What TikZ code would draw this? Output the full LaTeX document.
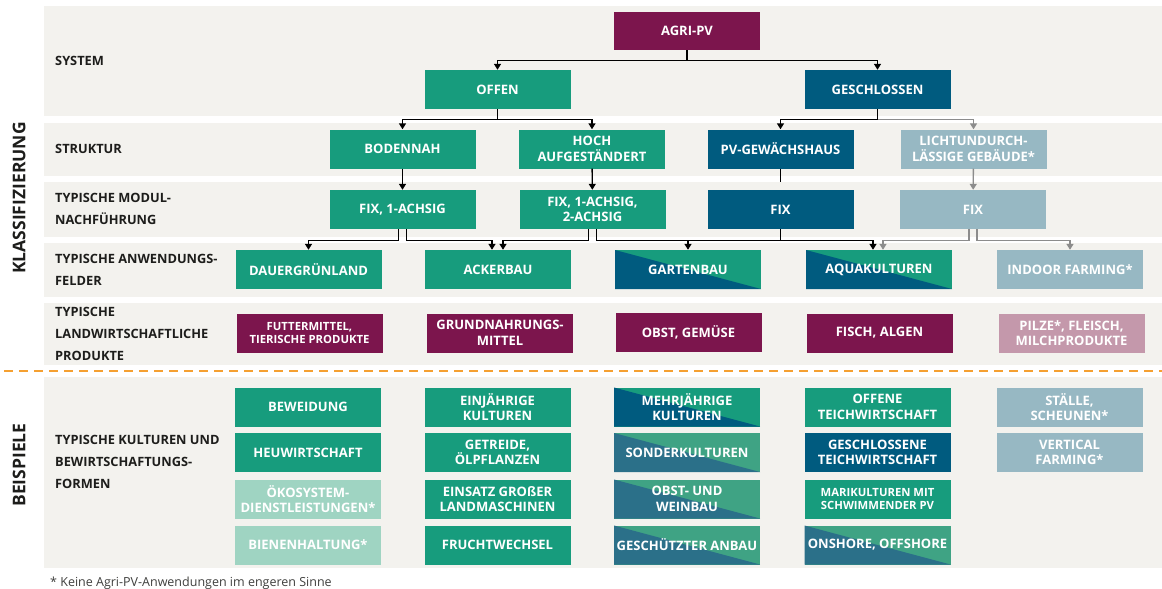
\documentclass[tikz,border=0pt]{standalone}
\usepackage{fontspec}
\setmainfont{Open Sans}
\usetikzlibrary{arrows.meta}
\definecolor{bg}{HTML}{F3F2EE}
\definecolor{fgreen}{HTML}{179C7D}
\definecolor{fblue}{HTML}{005B7F}
\definecolor{fpurple}{HTML}{7C154D}
\definecolor{fgray}{HTML}{97B8C3}
\definecolor{flgreen}{HTML}{9FD4C2}
\definecolor{fpink}{HTML}{C498AB}
\definecolor{mblue}{HTML}{2B7089}
\definecolor{mgreen}{HTML}{3FA384}
\definecolor{forange}{HTML}{F5A031}
\definecolor{conngray}{HTML}{8C8C8C}
\definecolor{labelc}{HTML}{1D1D1B}
\tikzset{
  box/.style={rectangle, minimum width=146pt, minimum height=39pt, inner sep=0pt,
    text=white, font=\fontsize{13}{15.5}\selectfont\bfseries, align=center, fill=#1},
  splitbox/.style 2 args={box=#2, path picture={\fill[#1] (path picture bounding box.north west) -- (path picture bounding box.south east) -- (path picture bounding box.south west) -- cycle;}},
  smalltext/.style={font=\fontsize{11.3}{13.8}\selectfont\bfseries},
  lab/.style={anchor=west, align=left, inner sep=0pt, text=labelc, font=\fontsize{12.8}{22}\selectfont\bfseries},
  biglab/.style={rotate=90, inner sep=0pt, text=labelc, font=\fontsize{17.5}{20}\selectfont\bfseries},
  ln/.style={draw=black, line width=1.4pt},
  arr/.style={ln, -{Triangle[width=7pt,length=6pt]}},
  garr/.style={arr, draw=conngray},
  band/.style={fill=bg}
}
\begin{document}
\begin{tikzpicture}[x=1pt,y=-1pt]
\useasboundingbox (0,0) rectangle (1162,589);
% background bands
\fill[band] (44,6) rectangle (1162,116);
\fill[band] (44,123) rectangle (1162,176);
\fill[band] (44,182) rectangle (1162,237);
\fill[band] (44,243) rectangle (1162,297);
\fill[band] (44,303) rectangle (1162,365);
\fill[band] (44,377) rectangle (1162,568);
\draw[forange, line width=2.5pt, dash pattern=on 9pt off 6pt] (4,371) -- (1162,371);

% big side labels
\node[biglab] (klass) at (19,198) {KLASSIFIZIERUNG};
\node[biglab] (beisp) at (19,465) {BEISPIELE};

% row labels
\node[lab] (l1) at (55,61) {SYSTEM};
\node[lab] (l2) at (55,149) {STRUKTUR};
\node[lab] (l3) at (55,209) {TYPISCHE MODUL-\\NACHFÜHRUNG};
\node[lab] (l4) at (55,269.5) {TYPISCHE ANWENDUNGS-\\FELDER};
\node[lab] (l5) at (55,334) {TYPISCHE\\LANDWIRTSCHAFTLICHE\\PRODUKTE};
\node[lab] (l6) at (55,462) {TYPISCHE KULTUREN UND\\BEWIRTSCHAFTUNGS-\\FORMEN};

% row 1
\node[box=fpurple, minimum height=38pt] (agri) at (687,31) {AGRI-PV};
\node[box=fgreen] (offen) at (497.5,89.5) {OFFEN};
\node[box=fblue] (gesch) at (877.5,89.5) {GESCHLOSSEN};
% row 2
\node[box=fgreen] (boden) at (402.5,149) {BODENNAH};
\node[box=fgreen] (hoch) at (592,149) {HOCH\\AUFGESTÄNDERT};
\node[box=fblue] (pvg) at (780.5,149) {PV-GEWÄCHSHAUS};
\node[box=fgray] (licht) at (973.5,149) {LICHTUNDURCH-\\LÄSSIGE GEBÄUDE*};
% row 3
\node[box=fgreen] (fix1) at (402.5,209.5) {FIX, 1-ACHSIG};
\node[box=fgreen] (fix12) at (592.5,209.5) {FIX, 1-ACHSIG,\\2-ACHSIG};
\node[box=fblue] (fixb) at (780.5,209.5) {FIX};
\node[box=fgray] (fixg) at (973,209.5) {FIX};
% row 4
\node[box=fgreen] (dauer) at (308.5,269.5) {DAUERGRÜNLAND};
\node[box=fgreen] (acker) at (498,269.5) {ACKERBAU};
\node[splitbox={fblue}{fgreen}] (garten) at (688,269.5) {GARTENBAU};
\node[splitbox={fblue}{fgreen}] (aqua) at (879,269.5) {AQUAKULTUREN};
\node[box=fgray] (indoor) at (1070,269.5) {INDOOR FARMING*};
% row 5
\node[box=fpurple, smalltext] (futter) at (309.5,333) {FUTTERMITTEL,\\TIERISCHE PRODUKTE};
\node[box=fpurple] (grund) at (500,333) {GRUNDNAHRUNGS-\\MITTEL};
\node[box=fpurple] (obst) at (688.5,332) {OBST, GEMÜSE};
\node[box=fpurple] (fisch) at (879.5,333) {FISCH, ALGEN};
\node[box=fpink] (pilze) at (1071.5,333) {PILZE*, FLEISCH,\\MILCHPRODUKTE};
% row 6 column 1
\node[box=fgreen] (bew) at (308,407) {BEWEIDUNG};
\node[box=fgreen] (heu) at (308,452.5) {HEUWIRTSCHAFT};
\node[box=flgreen] (oeko) at (308,499) {ÖKOSYSTEM-\\DIENSTLEISTUNGEN*};
\node[box=flgreen] (biene) at (308,545) {BIENENHALTUNG*};
% column 2
\node[box=fgreen] (einj) at (497.5,407) {EINJÄHRIGE\\KULTUREN};
\node[box=fgreen] (getr) at (497.5,452.5) {GETREIDE,\\ÖLPFLANZEN};
\node[box=fgreen] (eins) at (497.5,499) {EINSATZ GROßER\\LANDMASCHINEN};
\node[box=fgreen] (frucht) at (497.5,545) {FRUCHTWECHSEL};
% column 3
\node[splitbox={fblue}{fgreen}] (mehrj) at (687,407) {MEHRJÄHRIGE\\KULTUREN};
\node[splitbox={mblue}{mgreen}] (sonder) at (687,452.5) {SONDERKULTUREN};
\node[splitbox={mblue}{mgreen}] (wein) at (687,499) {OBST- UND\\WEINBAU};
\node[splitbox={mblue}{mgreen}] (gesch2) at (687,545) {GESCHÜTZTER ANBAU};
% column 4
\node[box=fgreen] (offteich) at (877.5,407) {OFFENE\\TEICHWIRTSCHAFT};
\node[box=fblue] (geschteich) at (877.5,452.5) {GESCHLOSSENE\\TEICHWIRTSCHAFT};
\node[box=fgreen, smalltext] (mari) at (877.5,499) {MARIKULTUREN MIT\\SCHWIMMENDER PV};
\node[splitbox={mblue}{mgreen}] (onsh) at (877.5,545) {ONSHORE, OFFSHORE};
% column 5
\node[box=fgray] (staelle) at (1069.5,407) {STÄLLE,\\SCHEUNEN*};
\node[box=fgray] (vert) at (1069.5,452.5) {VERTICAL\\FARMING*};

% connectors row 1 -> 2
\draw[arr] (agri.south) -- ++(0,10) -| (offen.north);
\draw[arr] (agri.south) -- ++(0,10) -| (gesch.north);
\draw[arr] (offen.south) -- ++(0,10) -| (boden.north);
\draw[arr] (offen.south) -- ++(0,10) -| (hoch.north);
\draw[garr] (gesch.south) ++(0,10) -| (licht.north);
\draw[arr] (gesch.south) -- ++(0,10) -| (pvg.north);
% row 2 -> 3
\draw[arr] (boden) -- (fix1);
\draw[arr] (hoch) -- (fix12);
\draw[ln] (pvg.south) -- ++(0,13);
\draw[garr] (licht) -- (fixg);
% row 3 -> 4
\draw[arr] ([xshift=-4pt]fix1.south) -- ++(0,11) -| (dauer.north);
\draw[arr] ([xshift=4pt]fix1.south) -- ++(0,11) -| ([xshift=-6pt]acker.north);
\draw[arr] ([xshift=-4pt]fix12.south) -- ++(0,11) -| ([xshift=5pt]acker.north);
\draw[arr] ([xshift=4pt]fix12.south) -- ++(0,11) -| (garten.north);
\draw[arr] ([xshift=4pt]fix12.south) -- ++(0,11) -| ([xshift=-6pt]aqua.north);
\draw[ln] (fixb.south) -- ++(0,11);
\draw[garr] ([xshift=-4pt]fixg.south) -- ++(0,11) -| ([xshift=4pt]aqua.north);
\draw[garr] ([xshift=4pt]fixg.south) -- ++(0,11) -| (indoor.north);

% footnote
\node[anchor=west, inner sep=0pt, text=labelc!85, font=\fontsize{12.5}{14}\selectfont] (fn) at (50,583) {* Keine Agri-PV-Anwendungen im engeren Sinne};
\end{tikzpicture}
\end{document}
